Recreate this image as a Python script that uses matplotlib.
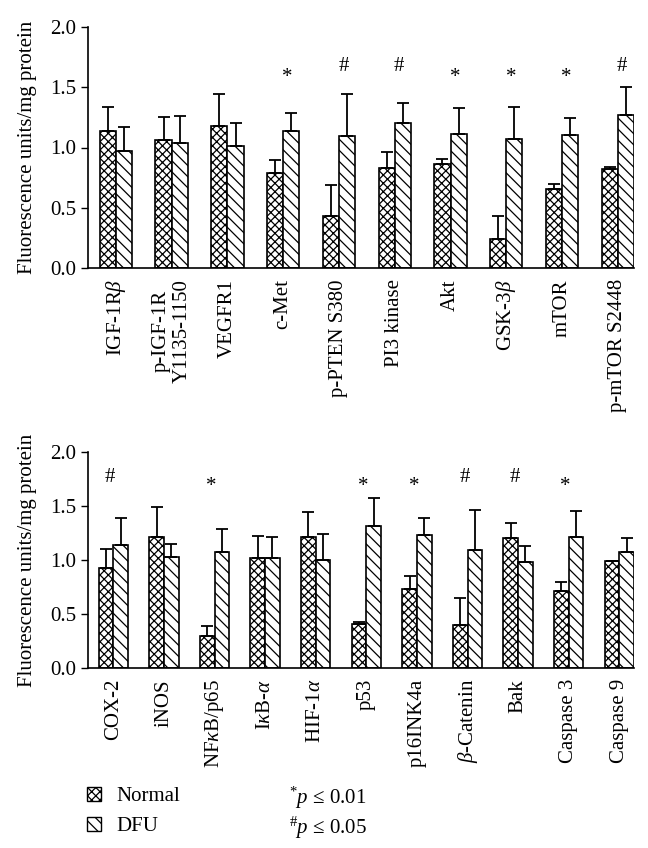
import numpy as np
import matplotlib
matplotlib.use("Agg")
import matplotlib.pyplot as plt
from matplotlib.patches import Rectangle

plt.rcParams['font.family'] = ['Liberation Serif', 'DejaVu Serif']
plt.rcParams['mathtext.fontset'] = 'custom'
plt.rcParams['mathtext.rm'] = 'Liberation Serif'
plt.rcParams['mathtext.it'] = 'Liberation Serif:italic'
plt.rcParams['hatch.linewidth'] = 0.9

# top panel
cats_top = ['IGF-1R$\\mathit{\\beta}$', 'p-IGF-1R\nY1135-1150', 'VEGFR1', 'c-Met',
            'p-PTEN S380', 'PI3 kinase', 'Akt', 'GSK-3$\\mathit{\\beta}$', 'mTOR', 'p-mTOR S2448']
normal_top = [1.14, 1.06, 1.18, 0.79, 0.43, 0.83, 0.865, 0.24, 0.655, 0.82]
normal_top_err = [0.20, 0.195, 0.265, 0.11, 0.26, 0.135, 0.04, 0.19, 0.04, 0.02]
dfu_top = [0.975, 1.04, 1.01, 1.14, 1.095, 1.20, 1.11, 1.07, 1.105, 1.27]
dfu_top_err = [0.195, 0.22, 0.19, 0.15, 0.345, 0.17, 0.22, 0.27, 0.14, 0.23]
sig_top = ['', '', '', '*', '#', '#', '*', '*', '*', '#']

# bottom panel
cats_bot = ['COX-2', 'iNOS', 'NF$\\mathit{\\kappa}$B/p65', 'I$\\mathit{\\kappa}$B-$\\mathit{\\alpha}$',
            'HIF-1$\\mathit{\\alpha}$', 'p53', 'p16INK4a', '$\\mathit{\\beta}$-Catenin', 'Bak',
            'Caspase 3', 'Caspase 9']
normal_bot = [0.925, 1.21, 0.295, 1.02, 1.21, 0.41, 0.73, 0.40, 1.20, 0.715, 0.99]
normal_bot_err = [0.18, 0.28, 0.09, 0.20, 0.23, 0.02, 0.12, 0.25, 0.14, 0.085, 0.0]
dfu_bot = [1.135, 1.03, 1.07, 1.015, 1.0, 1.315, 1.23, 1.09, 0.98, 1.215, 1.07]
dfu_bot_err = [0.25, 0.12, 0.22, 0.20, 0.245, 0.26, 0.155, 0.375, 0.15, 0.235, 0.135]
sig_bot = ['#', '', '*', '', '', '*', '*', '#', '#', '*', '']

W = 0.29
FS = 15


def panel(ax, cats, nv, ne, dv, de, sig, sig_y, sig_dx):
    x = np.arange(len(cats))
    kw = dict(edgecolor='black', linewidth=1.2, facecolor='white',
              error_kw=dict(elinewidth=1.3, capsize=4.5, capthick=1.3, ecolor='black'))
    ax.bar(x - W / 2, nv, W, yerr=[np.zeros(len(x)), ne], hatch='xxxx', **kw)
    ax.bar(x + W / 2, dv, W, yerr=[np.zeros(len(x)), de], hatch='\\\\\\', **kw)
    for i, s in enumerate(sig):
        if s:
            ax.text(x[i] + sig_dx, sig_y[s], s, ha='center', va='center', fontsize=FS)
    ax.set_xlim(-0.5, len(cats) - 1 + W)
    ax.set_ylim(0, 2.0)
    ax.set_yticks([0, 0.5, 1.0, 1.5, 2.0])
    ax.set_yticklabels(['0.0', '0.5', '1.0', '1.5', '2.0'])
    ax.set_xticks(x)
    ax.set_xticklabels(cats, rotation=90, ma='center')
    ax.tick_params(axis='x', length=0, pad=8, labelsize=FS)
    ax.tick_params(axis='y', direction='out', length=5, width=1, labelsize=FS)
    for sp in ['top', 'right']:
        ax.spines[sp].set_visible(False)
    for sp in ['left', 'bottom']:
        ax.spines[sp].set_linewidth(1.2)
    ax.set_ylabel('Fluorescence units/mg protein', fontsize=FS)
    ax.yaxis.set_label_coords(-0.093, 0.5)


fig = plt.figure(figsize=(6.48, 8.48), dpi=100)
ax1 = fig.add_axes([88 / 648, 1 - 268 / 848, 546 / 648, 241 / 848])
ax2 = fig.add_axes([88 / 648, 1 - 668 / 848, 546 / 648, 216 / 848])

panel(ax1, cats_top, normal_top, normal_top_err, dfu_top, dfu_top_err, sig_top,
      {'*': 1.58, '#': 1.67}, 0.08)
panel(ax2, cats_bot, normal_bot, normal_bot_err, dfu_bot, dfu_bot_err, sig_bot,
      {'*': 1.685, '#': 1.76}, -0.06)

# legend drawn by hand
leg_labels = ['Normal', 'DFU']
leg_hatch = ['xxxx', '\\\\\\']
for k, (lab, h) in enumerate(zip(leg_labels, leg_hatch)):
    yc = 794 + 30 * k
    fig.add_artist(Rectangle((87 / 648, 1 - (yc + 7) / 848), 14 / 648, 14 / 848,
                             transform=fig.transFigure, facecolor='white',
                             edgecolor='black', linewidth=1.0, hatch=h))
    fig.text(116 / 648, 1 - yc / 848, lab, fontsize=FS, va='center_baseline')

fig.text(289 / 648, 1 - 794 / 848, r'$^{*}\mathit{p}$ ≤ 0.01', fontsize=FS, va='center_baseline')
fig.text(289 / 648, 1 - 824 / 848, r'$^{\#}\mathit{p}$ ≤ 0.05', fontsize=FS, va='center_baseline')

fig.savefig('out.png', dpi=100)
